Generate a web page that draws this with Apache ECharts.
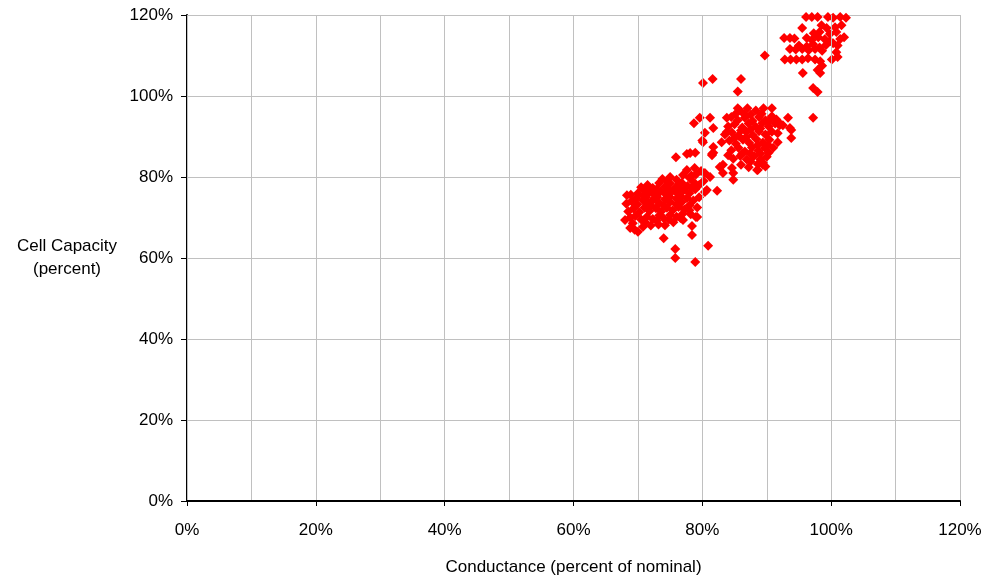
<!DOCTYPE html>
<html>
<head>
<meta charset="utf-8">
<script src="https://cdn.jsdelivr.net/npm/echarts@6/dist/echarts.min.js"></script>
<style>html,body{margin:0;padding:0;background:#fff}#c{width:987px;height:579px}</style>
</head>
<body>
<div id="c"></div>
<script>
var xTicks = [0, 20, 40, 60, 80, 100, 120];
var yTicks = [0, 20, 40, 60, 80, 100, 120];
var xTitle = 'Conductance (percent of nominal)';
var yTitle = 'Cell Capacity\n(percent)';

var clusterA = [
[69.5,67],[70.8,67.7],[72,68],[73.2,68.3],[74.2,68.1],[75.5,68.8],[77,69.4],[68.8,67.4],[70,66.5],
[68,69.4],[68.8,70],[69.6,70.4],[70.5,69.5],[71.4,70.2],[72.3,69.6],[73.3,70.5],[74,69.8],[75,70.6],[76,70.2],[77,71],[78.2,70.8],[79,70.1],
[68.5,71.5],[69.3,72.2],[70.2,71.3],[71,72.4],[71.8,71.6],[72.8,72.3],[73.6,71.5],[74.5,72.4],[75.4,71.8],[76.3,72.6],[77.2,72],[78,73],[79.2,72.5],
[68.2,73.4],[69,74],[69.9,73.2],[70.8,74.2],[71.6,73.5],[72.4,74.4],[73.3,73.6],[74.2,74.5],[75,73.8],[76,74.6],[76.8,73.8],[77.6,74.8],[78.6,74.2],[79.5,75],
[68.3,75.5],[68.9,75.6],[70,76],[70.9,75.4],[71.8,76.3],[72.6,75.5],[73.5,76.4],[74.4,75.6],[75.3,76.5],[76.2,75.8],[77.1,76.7],[78,76],[78.9,77],[80.4,76.3],[80.7,76.8],[82.3,76.6],
[70.5,77.5],[71.5,78],[72.3,77.3],[73.3,78.5],[74.2,77.6],[75,78.4],[75.9,77.5],[76.8,78.6],[77.7,77.8],[78.6,78.8],[79.5,78],[80.2,79],
[73.8,79.5],[75,80],[76,79.3],[77,80.5],[78,79.8],[79,80.6],[80.4,81],[81.2,80],
[77.6,81.7],[78.8,82.2],[79.8,81.5],[83.2,83],[84.6,82.2],[84.8,79.3],
[75.9,84.9],[77.6,85.7],[78.1,85.9],[78.9,86],[81.5,85.7],[81.7,86],[84,85.4],
[69.2,68.6],[71.1,68.9],[72.9,69.2],[74.8,69.5],[76.6,69.9],[69.8,74.8],[71.3,75],[73,75],[74.9,75.1],[76.6,75.3],
[71,76.7],[72.9,77],[74.7,77],[76.4,77.2],[78.4,77.5],[74.5,79],[76.5,78.2],[78.3,80.4],[72,73],[74,73],[76,73.2],[78,71.8]
];

var clusterB = [
[85.8,96.5],[87,97],[88.3,96.4],[89.5,97],[90.8,97],[86.5,95.5],
[84.5,94.8],[85.5,94],[86.6,94.6],[87.8,93.8],[88.8,94.8],[89.8,94],[90.8,95],[91.5,94.2],
[84,92.5],[85,93],[86.2,92.2],[87.2,93.2],[88.3,92.4],[89.3,93.3],[90.3,92.5],[91.3,93.2],[92,92.8],
[83.5,90.5],[84.6,91],[85.6,90.2],[86.8,91.2],[87.8,90.4],[88.8,91.3],[89.8,90.5],[90.8,91.2],[91.7,90.8],
[83,88.6],[84.2,89],[85.2,88.2],[86.3,89.2],[87.3,88.4],[88.4,89.3],[89.4,88.5],[90.4,89.2],[91,87.2],[91.7,88.6],
[84.5,86.6],[85.6,87.2],[86.6,86.3],[87.7,87.3],[88.7,86.5],[89.7,87.2],[90.3,86],
[84.8,84.5],[85.9,85.2],[86.9,84.3],[88,85.2],[89,84.4],[90,85],
[86,83],[87.2,82.4],[88.6,83.2],[89.4,83.5],[88.6,81.7],
[93.3,94.6],[93.8,91.6],[93.8,89.6],[92,93.3],[92.5,92.8],[93.6,92.1],
[79.6,94.6],[81.2,94.6],[78.7,93.3],[81.7,92.1],[80.4,90.9],[80.1,88.6],[81.7,87.4],[83.8,94.6],[83.8,91.1],[81.5,85.4],[80,89],
[82.7,82.5],[83.2,81],[84.8,81],[88.5,81.7],[89.4,83],
[86,91.5],[87.5,91.8],[89,92],[90.3,93.8],[85.2,95.6],[87.5,95.4],[89.2,95.6],[85,89.7],[86.8,89.8],[88.6,87.9],[90.2,87.9],
[86.2,85.8],[87.4,85.8],[89,85.8],[87.5,83.8],[89.8,82.6]
];

var clusterC = [
[96.1,119.5],[97,119.5],[97.9,119.5],[99.5,119.5],[100.3,119.3],[101.4,119.5],[102.3,119.3],
[95.5,116.8],[98.5,117.5],[99.3,116.8],[100.6,117],[101.6,117.5],
[97.3,115.5],[98.2,115.8],[99.8,115.3],[100.8,115.8],[102,114.5],
[92.7,114.3],[93.6,114.3],[94.3,114.2],[96.2,114.3],[97,113.8],[98,114.5],[99,114],[99.8,113.6],[101.4,114.1],
[95,112.5],[96.2,112.2],[97.2,112.8],[98.2,112],[99.2,112.6],[100.3,113],[101,112.5],
[93.6,111.6],[94.5,111.5],[95.5,111.6],[96.5,111.3],[97.5,111.6],[98.6,111.2],[100.8,110.8],
[92.8,109],[93.7,109],[94.6,109],[95.5,109],[96.4,109.3],[97.5,109],[98.3,108.6],[100.1,109],[101,109.6],
[95.6,105.7],[97.9,106.4],[98.3,105.7],[98.6,107.5],
[97.2,102],[97.9,101],[97.2,94.6]
];

var outliers = [
[74,64.9],[75.8,62.2],[75.8,60],[78.9,59],[80.9,63],[78.4,65.7],[78.4,67.9],[79.2,70.1],
[80.1,103.2],[81.6,104.2],[86,104.2],[85.5,101.1],[85.5,97],[89.7,110]
];

var allPoints = clusterA.concat(clusterB, clusterC, outliers);

var chart = echarts.init(document.getElementById('c'), null, {renderer: 'canvas'});
var fontFam = '"Liberation Sans", Arial, sans-serif';
chart.setOption({
  animation: false,
  backgroundColor: '#ffffff',
  grid: {left: 187, right: 27, top: 15, bottom: 78, containLabel: false, outerBoundsMode: 'none'},
  xAxis: [{
    type: 'value', min: 0, max: 120, interval: 20,
    name: xTitle, nameLocation: 'middle', nameGap: 58,
    nameTextStyle: {fontSize: 17, color: '#000', fontFamily: fontFam},
    axisLine: {show: true, onZero: false, lineStyle: {color: '#000', width: 2}},
    axisTick: {show: true, length: 5, inside: false, lineStyle: {color: '#000', width: 1}},
    axisLabel: {formatter: '{value}%', margin: 21, fontSize: 17, color: '#000', fontFamily: fontFam},
    splitLine: {show: true, lineStyle: {color: '#c0c0c0', width: 1}},
    z: 3
  }, {
    type: 'value', min: 0, max: 120, interval: 10, position: 'bottom',
    axisLine: {show: false}, axisTick: {show: false}, axisLabel: {show: false},
    splitLine: {show: true, lineStyle: {color: '#c0c0c0', width: 1}},
    z: 1
  }],
  yAxis: {
    type: 'value', min: 0, max: 120, interval: 20,
    name: yTitle, nameLocation: 'middle', nameRotate: 0, nameGap: 120,
    nameTextStyle: {fontSize: 17, color: '#000', fontFamily: fontFam, align: 'center', lineHeight: 23},
    axisLine: {show: true, onZero: false, lineStyle: {color: '#000', width: 2}},
    axisTick: {show: true, length: 6, lineStyle: {color: '#000', width: 1}},
    axisLabel: {formatter: '{value}%', margin: 14, fontSize: 17, color: '#000', fontFamily: fontFam},
    splitLine: {show: true, lineStyle: {color: '#c0c0c0', width: 1}}
  },
  series: [{
    type: 'scatter',
    xAxisIndex: 0,
    data: allPoints,
    symbol: 'diamond',
    symbolSize: 10,
    itemStyle: {color: '#ff0000', opacity: 1},
    clip: true
  }]
});
</script>
</body>
</html>
